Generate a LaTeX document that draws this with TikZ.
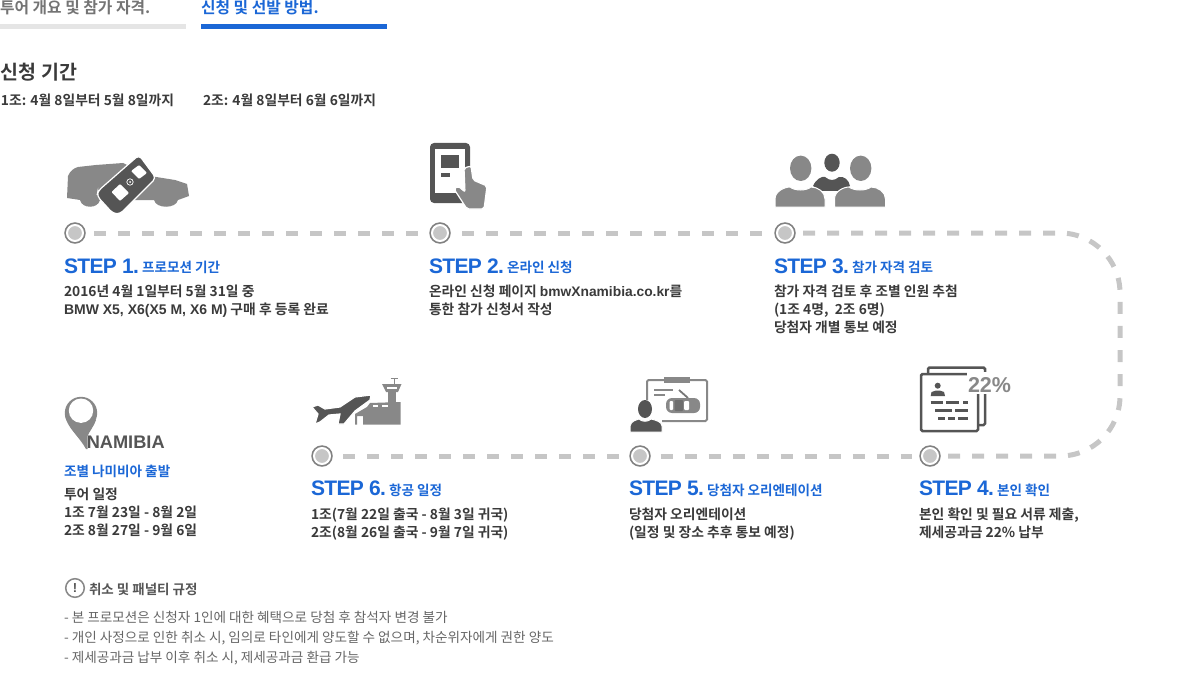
\documentclass[tikz,border=0pt]{standalone}
\usepackage{fontspec}
\setmainfont{Noto Sans CJK KR}
\newfontfamily\krmed[WordSpace=1.3]{Noto Sans CJK KR Bold}
\newfontfamily\krsub{Noto Sans CJK KR Bold}
\newfontfamily\krbold{Noto Sans CJK KR Bold}
\newfontfamily\krreg{Noto Sans CJK KR}
\newfontfamily\stepface[LetterSpace=-3]{Liberation Sans Bold}
\newfontfamily\arialb{Liberation Sans Bold}
\newcommand{\latn}[1]{{\arialb\fontsize{14}{16}\selectfont #1}}
\newcommand{\laturl}[1]{{\arialb\fontsize{13.8}{16}\selectfont #1}}
\definecolor{bluex}{HTML}{1B67D6}
\definecolor{ink}{HTML}{3A3A3A}
\definecolor{dk}{HTML}{555555}
\definecolor{gr}{HTML}{888888}
\definecolor{dashc}{HTML}{C6C6C6}
\tikzset{
 x=1pt,y=-1pt,
 txt/.style={anchor=base west,inner sep=0pt,outer sep=0pt},
 bodytxt/.style={txt,text=ink,font=\krmed\fontsize{13.8}{16}\selectfont},
 subtxt/.style={txt,text=bluex,font=\krsub\fontsize{13.6}{16}\selectfont},
 steptxt/.style={txt,text=bluex,font=\stepface\fontsize{21}{24}\selectfont},
 notetxt/.style={txt,text=dk!90,font=\krreg\fontsize{13.6}{16}\selectfont},
 stepdot/.style={circle,minimum size=16pt,inner sep=0pt,outer sep=0pt,fill=dashc,draw=white,line width=2pt,preaction={draw=gr!95!black,line width=5.4pt}},
 link/.style={draw=dashc,line width=5pt,dash pattern=on 12pt off 12pt},
 iconline/.style={draw=dk,line width=2.5pt},
}
\begin{document}
\begin{tikzpicture}
\useasboundingbox (0,0) rectangle (1185,679);
% tabs
\fill[gray!20!white] (0,24) rectangle (186,29);
\fill[bluex] (201,24) rectangle (387,29);
\node[txt,text=gr!85!black,font=\krbold\fontsize{15.8}{18}\selectfont] (tab1) at (0,14) {투어 개요 및 참가 자격.};
\node[txt,text=bluex,font=\krbold\fontsize{15.8}{18}\selectfont] (tab2) at (201,14) {신청 및 선발 방법.};
\node[txt,text=ink,font=\krbold\fontsize{19.5}{20}\selectfont] (hd) at (1,80) {신청 기간};
\node[bodytxt] (p1) at (1,106) {1조: 4월 8일부터 5월 8일까지};
\node[bodytxt] (p2) at (203,106) {2조: 4월 8일부터 6월 6일까지};
% stops
\node[stepdot] (c1) at (75,233) {};
\node[stepdot] (c2) at (440,233) {};
\node[stepdot] (c3) at (785,233) {};
\node[stepdot] (c4) at (930,456) {};
\node[stepdot] (c5) at (640,456) {};
\node[stepdot] (c6) at (322,456) {};
\coordinate (tr) at (1120,233);
\coordinate (br) at (1120,456);
\coordinate (mid) at (1120,344);
\draw[link,shorten <=11pt,shorten >=10pt] (c1.east) -- (c2.west);
\draw[link,shorten <=14pt,shorten >=10pt] (c2.east) -- (c3.west);
\draw[link,shorten <=10pt,rounded corners=60pt] (c3.east) -- (tr) -- (mid);
\draw[link,shorten <=10pt,rounded corners=60pt] (c4.east) -- (br) -- (mid);
\draw[link,shorten <=12.7pt,shorten >=10pt] (c5.east) -- (c4.west);
\draw[link,shorten <=13pt,shorten >=10pt] (c6.east) -- (c5.west);
% step 1
\node[steptxt] (s1) at (64,273) {STEP 1.};
\node[subtxt] (s1b) at (142,272) {프로모션 기간};
\node[bodytxt] (s1l1) at (64,296) {2016년 4월 1일부터 5월 31일 중};
\node[bodytxt] (s1l2) at (64,314) {\latn{BMW X5, X6(X5 M, X6 M)} 구매 후 등록 완료};
% step 2
\node[steptxt] (s2) at (429,273) {STEP 2.};
\node[subtxt] (s2b) at (507,272) {온라인 신청};
\node[bodytxt] (s2l1) at (429,296) {온라인 신청 페이지 \laturl{bmwXnamibia.co.kr}를};
\node[bodytxt] (s2l2) at (429,314) {통한 참가 신청서 작성};
% step 3
\node[steptxt] (s3) at (774,273) {STEP 3.};
\node[subtxt] (s3b) at (852,272) {참가 자격 검토};
\node[bodytxt] (s3l1) at (774,296) {참가 자격 검토 후 조별 인원 추첨};
\node[bodytxt] (s3l2) at (774,314) {(1조 4명,\ \ 2조 6명)};
\node[bodytxt] (s3l3) at (774,332) {당첨자 개별 통보 예정};
% step 4
\node[steptxt] (s4) at (919,495.5) {STEP 4.};
\node[subtxt] (s4b) at (997,495) {본인 확인};
\node[bodytxt] (s4l1) at (919,519) {본인 확인 및 필요 서류 제출,};
\node[bodytxt] (s4l2) at (919,537) {제세공과금 22\% 납부};
% step 5
\node[steptxt] (s5) at (629,495.5) {STEP 5.};
\node[subtxt] (s5b) at (707,495) {당첨자 오리엔테이션};
\node[bodytxt] (s5l1) at (629,519) {당첨자 오리엔테이션};
\node[bodytxt] (s5l2) at (629,537) {(일정 및 장소 추후 통보 예정)};
% step 6
\node[steptxt] (s6) at (311,495.5) {STEP 6.};
\node[subtxt] (s6b) at (389,495) {항공 일정};
\node[bodytxt] (s6l1) at (311,519) {1조(7월 22일 출국 - 8월 3일 귀국)};
\node[bodytxt] (s6l2) at (311,537) {2조(8월 26일 출국 - 9월 7일 귀국)};
% namibia
\node[subtxt] (nb) at (64,476) {조별 나미비아 출발};
\node[bodytxt] (n1) at (64,499) {투어 일정};
\node[bodytxt] (n2) at (64,517) {1조 7월 23일 - 8월 2일};
\node[bodytxt] (n3) at (64,535) {2조 8월 27일 - 9월 6일};
\fill[gr] (81,413) circle[radius=16.2];
\fill[gr] (64.9,415) .. controls (67,428) and (79,436) .. (86,449) -- (87.5,449) -- (87.5,436) .. controls (89,432) and (93,428) .. (96,420) -- cycle;
\fill[white] (81,410.7) circle[radius=12.2];
\node[txt,text=dk,font=\arialb\fontsize{18.2}{20}\selectfont] (nam) at (86.8,448) {NAMIBIA};
% notes
\draw[gr,line width=1.5pt] (75,588) circle[radius=9.3];
\node[inner sep=0pt,text=dk,font=\arialb\fontsize{13}{14}\selectfont] (ex) at (75,588) {!};
\node[txt,text=dk,font=\krsub\fontsize{13.5}{16}\selectfont] (nh) at (89,594) {취소 및 패널티 규정};
\node[notetxt] (nt1) at (64,622) {- 본 프로모션은 신청자 1인에 대한 혜택으로 당첨 후 참석자 변경 불가};
\node[notetxt] (nt2) at (64,642) {- 개인 사정으로 인한 취소 시, 임의로 타인에게 양도할 수 없으며, 차순위자에게 권한 양도};
\node[notetxt] (nt3) at (64,662) {- 제세공과금 납부 이후 취소 시, 제세공과금 환급 가능};
% --- icon: car and key
\fill[gr] (67,198) -- (68,176) .. controls (70,171) and (74,168) .. (78,167) -- (96,165) -- (123,163) -- (150,176) -- (175,180) -- (187,184) -- (189,196) -- (178,200)
 .. controls (176,209) and (156,209) .. (154,200) -- (100,200) .. controls (98,209) and (82,209) .. (80,200) -- cycle;
\path[fill=dk,draw=white,line width=1.2pt,rounded corners=4pt] (139,155) -- (156,178) -- (120,214) -- (113,213.5) -- (97,196) -- (98,191) -- cycle;
\fill[white,rounded corners=1pt] (139,165) -- (147,173) -- (139,179) -- (131,171) -- cycle;
\fill[white,rounded corners=1pt] (120,184) -- (129,193) -- (120,201) -- (111.5,192) -- cycle;
\draw[white,line width=.7pt] (130,182) circle[radius=3.2];
\fill[white] (130,182) circle[radius=1];
% --- icon: tablet and hand
\fill[dk,rounded corners=4pt] (430,143) rectangle (470,203);
\fill[white] (435,149) rectangle (465,193);
\fill[dk] (441,155) rectangle (459,168);
\fill[dk] (441,173) rectangle (450,177);
\path[fill=gr,draw=white,line width=1.2pt,rounded corners=2pt] (464,168) -- (471,166) -- (473,180) -- (487,186) -- (484,209) -- (467,209) -- (454,189) -- (458,186) -- (465,192) -- cycle;
% --- icon: people
\fill[dk] (832,162.7) ellipse[x radius=7.7,y radius=9];
\fill[dk] (813,186) .. controls (816,179) and (822,176) .. (825,177) .. controls (830,181) and (834,181) .. (839,177) .. controls (844,176) and (849,180) .. (850,186) -- (840,191) -- (822,191) -- cycle;
\fill[gr] (800.7,168.3) ellipse[x radius=10.7,y radius=12.7];
\fill[gr] (860.7,168.3) ellipse[x radius=10.7,y radius=12.7];
\path[fill=gr,draw=white,line width=1pt] (775,207) -- (775,199) .. controls (775,191) and (785,187) .. (790,187) .. controls (795,191) and (806,191) .. (811,187) .. controls (818,187) and (825,192) .. (825,199) -- (825,207) -- cycle;
\path[fill=gr,draw=white,line width=1pt] (834.5,207) -- (834.5,199) .. controls (834.5,191) and (844,187) .. (849,187) .. controls (854,191) and (866,191) .. (871,187) .. controls (878,187) and (885.5,192) .. (885.5,199) -- (885.5,207) -- cycle;
% --- icon: airport
\fill[gr] (355,424.5) -- (355,414) -- (367,407) -- (370,403) -- (400.5,402) -- (400.5,424.5) -- (363,424.5) -- (363,416) -- (357,416) -- (357,424.5) -- cycle;
\fill[white] (373,405) rectangle (378,407);
\fill[white] (382,405) rectangle (388,407);
\fill[gr] (388,392) rectangle (396,403);
\fill[gr] (382,384) -- (401.5,384) -- (398,392) -- (386,392) -- cycle;
\fill[white] (387,386.5) rectangle (397,388.5);
\draw[gr,line width=1pt] (394,378) -- (394,384) (390.5,378.5) -- (397.5,378.5);
\path[fill=dk,draw=white,line width=1.2pt] (371,395) -- (370,400) -- (355,411) -- (344,424) -- (338,424) -- (340,414) -- (329,415) -- (320,422) -- (315,424) -- (318,414) -- (312,407) -- (318,405) -- (325,409) -- (340,407) -- (355,397) -- cycle;
% --- icon: orientation board
\draw[gr,line width=2pt,rounded corners=1.5pt] (647,400) -- (647,380) -- (707,380) -- (707,421) -- (662,421);
\fill[gr] (664,377) rectangle (690,383);
\fill[gr] (654,389) rectangle (673,391);
\fill[gr] (654,394) rectangle (665,396);
\draw[dk!80,line width=1.8pt] (679,390) -- (688,398);
\fill[gr,rounded corners=6pt] (666,398) rectangle (700,413);
\fill[white,rounded corners=1pt] (669.5,401) rectangle (673,410);
\fill[white,rounded corners=1pt] (684,401) rectangle (689,410);
\fill[dk!85,rounded corners=1pt] (674.5,400) rectangle (683,411);
\fill[dk] (645,409) ellipse[x radius=7,y radius=9];
\path[fill=dk,draw=white,line width=1pt] (630,432) -- (630,426) .. controls (631,421) and (636,420) .. (639,419) .. controls (642,422) and (648,422) .. (651,419) .. controls (656,420) and (662,422) .. (662,426) -- (662,432) -- cycle;
% --- icon: document
\draw[iconline,rounded corners=1.5pt] (928,373) -- (928,367.5) -- (985,367.5) -- (985,425) -- (978,425);
\path[fill=white,draw=dk,line width=2.5pt,rounded corners=1.5pt] (921,374) rectangle (978,431);
\fill[white] (967,372) rectangle (1012,394);
\node[txt,text=gr,font=\arialb\fontsize{21.5}{24}\selectfont] (pct) at (968,392) {22\%};
\fill[dk] (937.7,385.7) circle[radius=3];
\fill[dk] (930.7,396) -- (931.5,392) -- (936,390.5) -- (939.5,390.5) -- (944,392) -- (945,396) -- cycle;
\draw[iconline] (930.7,402.7) -- (942.7,402.7) (946,402.7) -- (959,402.7) (963,402.7) -- (968,402.7);
\draw[iconline] (935,410.7) -- (952,410.7) (955,410.7) -- (968,410.7);
\draw[iconline] (938,418.3) -- (945,418.3) (948,418.3) -- (955,418.3) (958,418.3) -- (968,418.3);
\end{tikzpicture}
\end{document}
